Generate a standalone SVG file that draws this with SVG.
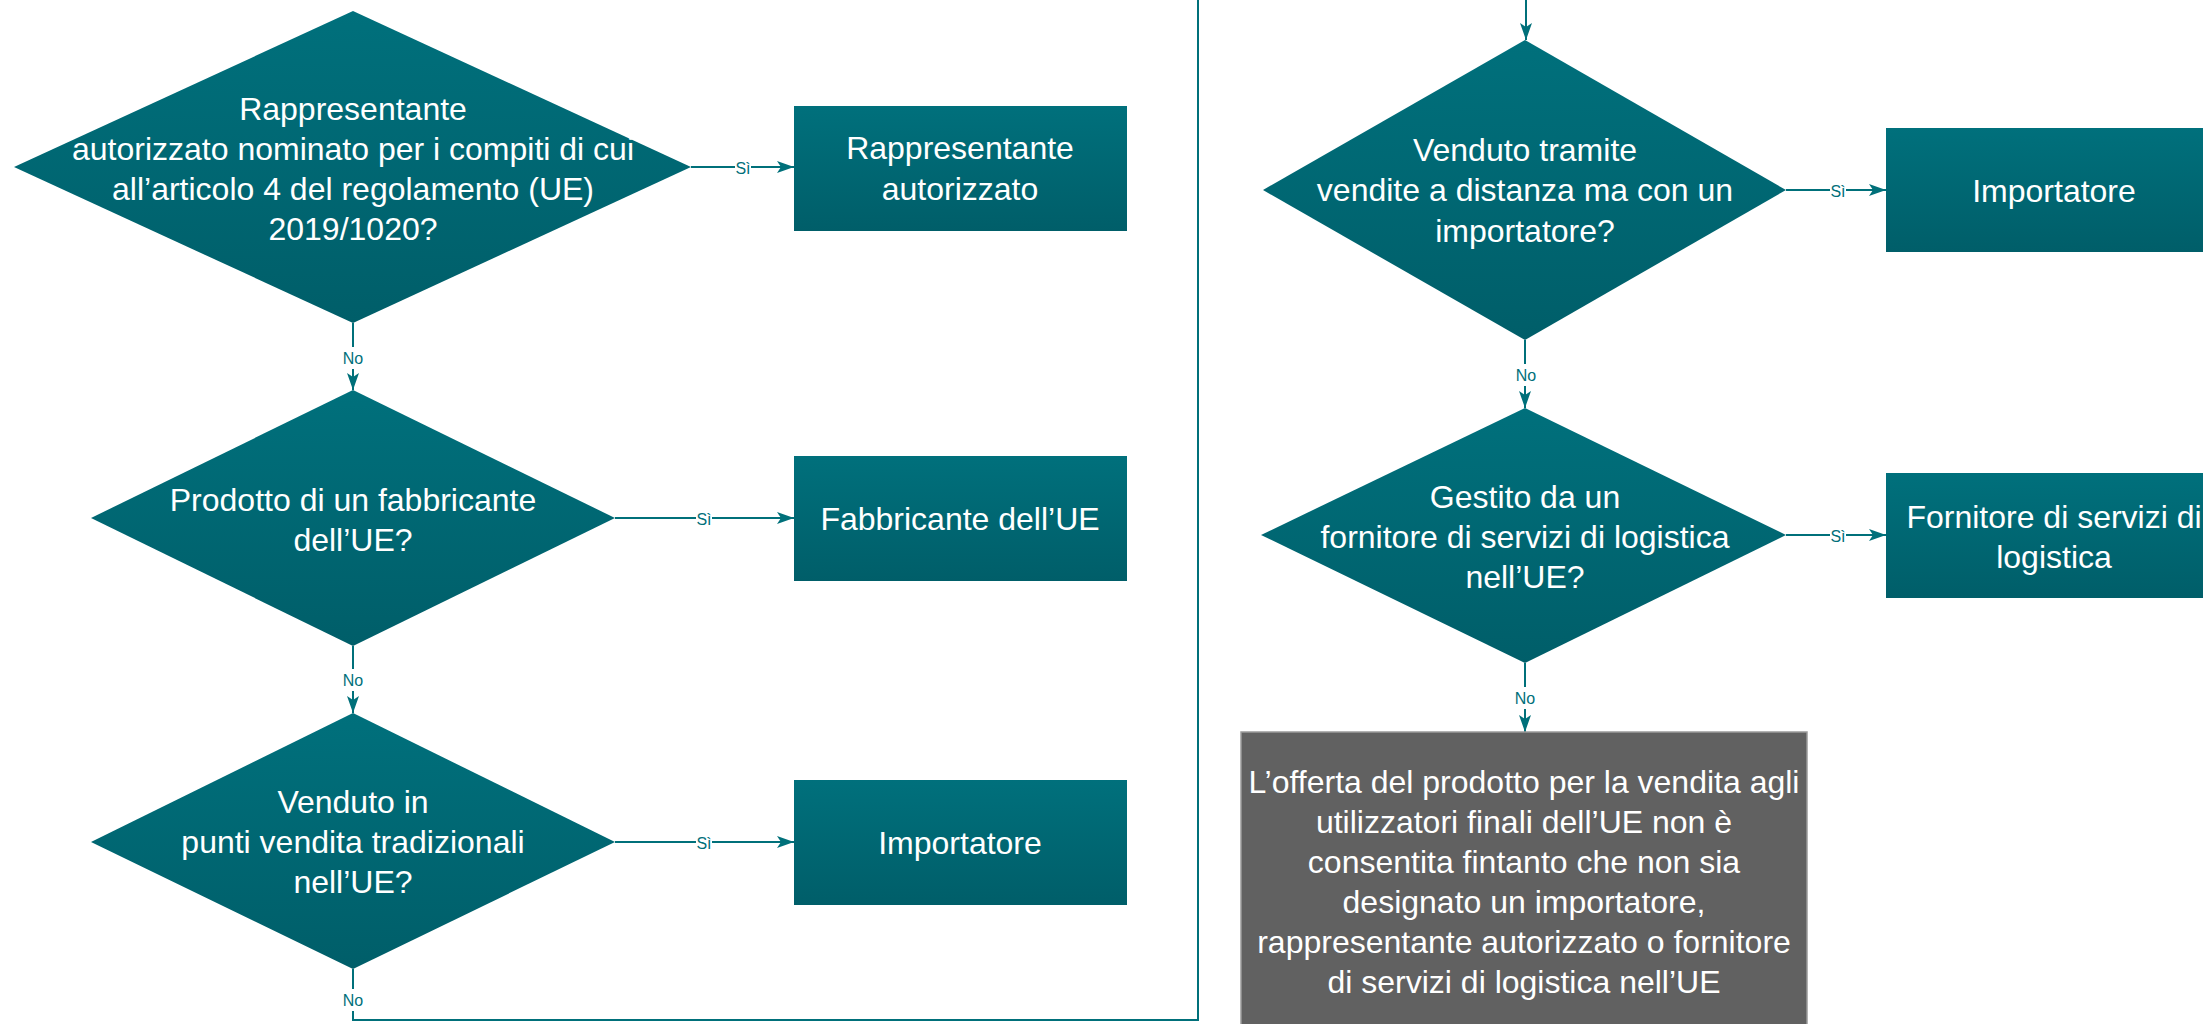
<svg xmlns="http://www.w3.org/2000/svg" width="2203" height="1024" viewBox="0 0 2203 1024">
<defs>
<linearGradient id="teal" x1="0" y1="0" x2="0" y2="1">
<stop offset="0" stop-color="#00707c"/>
<stop offset="1" stop-color="#005e69"/>
</linearGradient>
<marker id="arr" markerUnits="userSpaceOnUse" markerWidth="18" markerHeight="14" refX="17" refY="7" orient="auto">
<path d="M0,1 L17,7 L0,13 L4,7 z" fill="#00707a"/>
</marker>
<style>
.shape{fill:url(#teal);}
.t{font-family:"Liberation Sans",Arial,sans-serif;font-size:32px;fill:#ffffff;text-anchor:middle;}
.c{fill:none;stroke:#00707a;stroke-width:2;}
.lbg{fill:#ffffff;}
.lab{font-family:"Liberation Sans",Arial,sans-serif;font-size:16px;fill:#00707a;text-anchor:middle;}
</style>
</defs>
<rect width="2203" height="1024" fill="#ffffff"/>

<g id="connectors">
<path class="c" d="M691,167 H794" marker-end="url(#arr)"/>
<path class="c" d="M615,518 H794" marker-end="url(#arr)"/>
<path class="c" d="M615,842 H794" marker-end="url(#arr)"/>
<path class="c" d="M353,323 V390" marker-end="url(#arr)"/>
<path class="c" d="M353,646 V713" marker-end="url(#arr)"/>
<path class="c" d="M353,969 V1020 H1198 V0"/>
<path class="c" d="M1526,0 V40" marker-end="url(#arr)"/>
<path class="c" d="M1786,190 H1886" marker-end="url(#arr)"/>
<path class="c" d="M1525,340 V408" marker-end="url(#arr)"/>
<path class="c" d="M1786,535 H1886" marker-end="url(#arr)"/>
<path class="c" d="M1525,663 V732" marker-end="url(#arr)"/>
<rect class="lbg" x="735" y="158" width="16" height="20"/>
<text class="lab" x="743" y="174">Sì</text>
<rect class="lbg" x="696" y="509" width="16" height="20"/>
<text class="lab" x="704" y="525">Sì</text>
<rect class="lbg" x="696" y="833" width="16" height="20"/>
<text class="lab" x="704" y="849">Sì</text>
<rect class="lbg" x="1830" y="181" width="16" height="20"/>
<text class="lab" x="1838" y="197">Sì</text>
<rect class="lbg" x="1830" y="526" width="16" height="20"/>
<text class="lab" x="1838" y="542">Sì</text>
<rect class="lbg" x="341" y="347" width="24" height="22"/>
<text class="lab" x="353" y="364">No</text>
<rect class="lbg" x="341" y="669" width="24" height="22"/>
<text class="lab" x="353" y="686">No</text>
<rect class="lbg" x="341" y="989" width="24" height="22"/>
<text class="lab" x="353" y="1006">No</text>
<rect class="lbg" x="1514" y="364" width="24" height="22"/>
<text class="lab" x="1526" y="381">No</text>
<rect class="lbg" x="1513" y="687" width="24" height="22"/>
<text class="lab" x="1525" y="704">No</text>
</g>

<g id="d1">
<polygon class="shape" points="353,11 691,167 353,323 14,167"/>
<text class="t" x="353" y="120">Rappresentante</text>
<text class="t" x="353" y="160">autorizzato nominato per i compiti di cui</text>
<text class="t" x="353" y="200">all’articolo 4 del regolamento (UE)</text>
<text class="t" x="353" y="240">2019/1020?</text>
</g>
<g id="b1">
<rect class="shape" x="794" y="106" width="333" height="125"/>
<text class="t" x="960" y="159">Rappresentante</text>
<text class="t" x="960" y="200">autorizzato</text>
</g>

<g id="d2">
<polygon class="shape" points="353,390 615,518 353,646 91,518"/>
<text class="t" x="353" y="511">Prodotto di un fabbricante</text>
<text class="t" x="353" y="551">dell’UE?</text>
</g>
<g id="b2">
<rect class="shape" x="794" y="456" width="333" height="125"/>
<text class="t" x="960" y="530">Fabbricante dell’UE</text>
</g>

<g id="d3">
<polygon class="shape" points="353,713 615,842 353,969 91,842"/>
<text class="t" x="353" y="813">Venduto in</text>
<text class="t" x="353" y="853">punti vendita tradizionali</text>
<text class="t" x="353" y="893">nell’UE?</text>
</g>
<g id="b3">
<rect class="shape" x="794" y="780" width="333" height="125"/>
<text class="t" x="960" y="854">Importatore</text>
</g>

<g id="d4">
<polygon class="shape" points="1525,40 1786,190 1525,340 1263,190"/>
<text class="t" x="1525" y="161">Venduto tramite</text>
<text class="t" x="1525" y="201">vendite a distanza ma con un</text>
<text class="t" x="1525" y="242">importatore?</text>
</g>
<g id="b4">
<rect class="shape" x="1886" y="128" width="334" height="124"/>
<text class="t" x="2054" y="202">Importatore</text>
</g>

<g id="d5">
<polygon class="shape" points="1525,408 1786,535 1525,663 1261,535"/>
<text class="t" x="1525" y="508">Gestito da un</text>
<text class="t" x="1525" y="548">fornitore di servizi di logistica</text>
<text class="t" x="1525" y="588">nell’UE?</text>
</g>
<g id="b5">
<rect class="shape" x="1886" y="473" width="334" height="125"/>
<text class="t" x="2054" y="528">Fornitore di servizi di</text>
<text class="t" x="2054" y="568">logistica</text>
</g>

<g id="g1">
<rect x="1241" y="732" width="566" height="300" fill="#616161" stroke="#9a9a9a" stroke-width="1.5"/>
<text class="t" x="1524" y="793">L’offerta del prodotto per la vendita agli</text>
<text class="t" x="1524" y="833">utilizzatori finali dell’UE non è</text>
<text class="t" x="1524" y="873">consentita fintanto che non sia</text>
<text class="t" x="1524" y="913">designato un importatore,</text>
<text class="t" x="1524" y="953">rappresentante autorizzato o fornitore</text>
<text class="t" x="1524" y="993">di servizi di logistica nell’UE</text>
</g>
</svg>
